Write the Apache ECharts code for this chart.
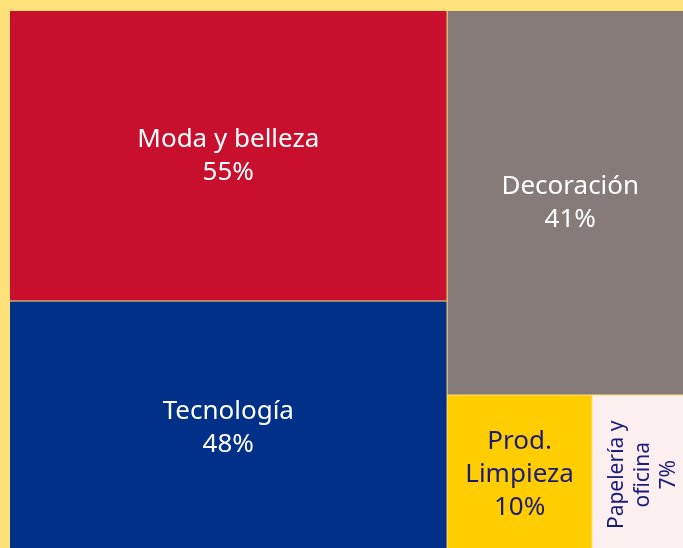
<!DOCTYPE html>
<html lang="es">
<head>
    <meta charset="UTF-8">
    <script src="https://cdn.jsdelivr.net/npm/echarts@6/dist/echarts.min.js"></script>
    <title>treemap</title>
    <style>
        html, body { margin: 0; padding: 0; background: #FFE17A; }
        #chart { width: 683px; height: 548px; }
    </style>
</head>
<body>
    <div id="chart"></div>
    <script>
        let categories = ['Moda y belleza', 'Tecnología', 'Decoración', 'Prod.\nLimpieza', 'Papelería y\noficina'];
        let values = [55, 48, 41, 10, 7];
        let colors = ['#C8102E', '#003087', '#857C7A', '#FFCD00', '#FCEFEF'];
        let textColors = ['#FFFFFF', '#FFFFFF', '#FFFFFF', '#1B1B7A', '#1B1B7A'];

        let data = categories.map(function (name, i) {
            let item = {
                name: name,
                value: values[i],
                itemStyle: { color: colors[i] },
                label: { color: textColors[i] }
            };
            if (i == 4) {
                // narrow cell: vertical, smaller text
                item.label.rotate = 90;
                item.label.fontSize = 21;
                item.label.lineHeight = 26;
            }
            return item;
        });

        let chart = echarts.init(document.getElementById('chart'));
        chart.setOption({
            backgroundColor: '#FFE17A',
            series: [{
                type: 'treemap',
                left: 10,
                top: 11,
                width: 683,
                height: 543,
                roam: false,
                nodeClick: false,
                breadcrumb: { show: false },
                animation: false,
                itemStyle: {
                    borderColor: '#FFE17A',
                    borderWidth: 0,
                    gapWidth: 1
                },
                label: {
                    show: true,
                    position: 'inside',
                    align: 'center',
                    verticalAlign: 'middle',
                    fontFamily: 'Noto Sans',
                    fontSize: 26,
                    lineHeight: 33,
                    overflow: 'none',
                    formatter: function (p) {
                        return p.name + '\n' + p.value + '%';
                    }
                },
                data: data
            }]
        });
    </script>
</body>
</html>
